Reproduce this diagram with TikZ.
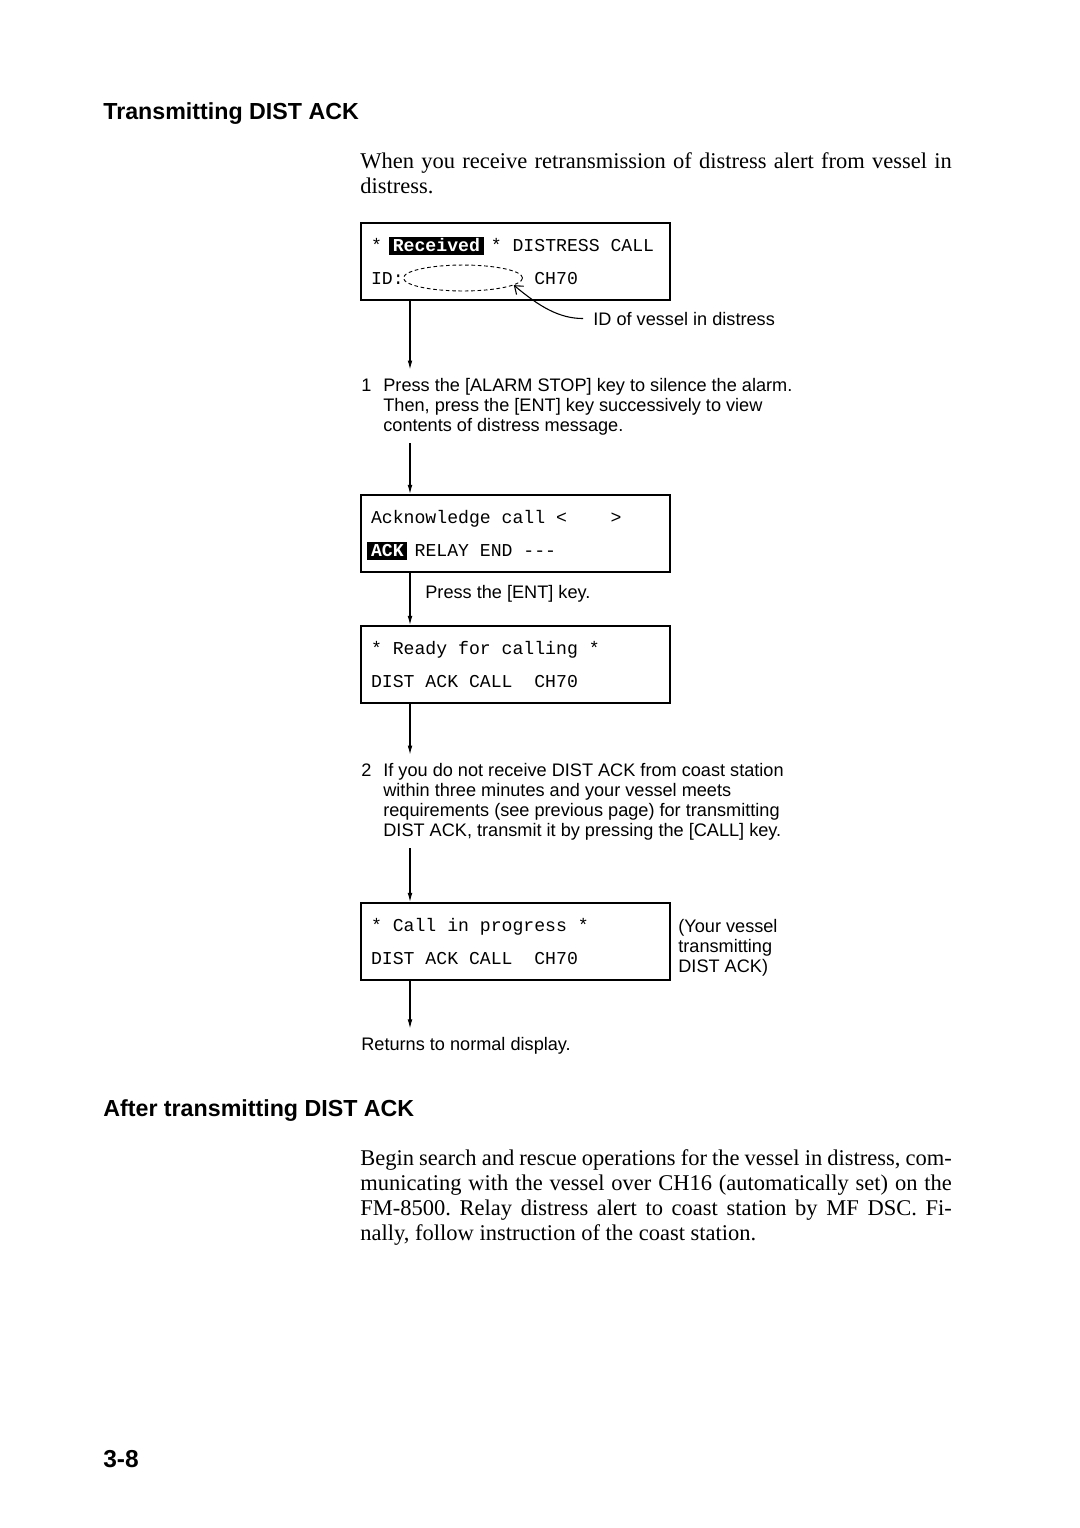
\documentclass[tikz,border=0pt]{standalone}
\usepackage{fontspec}
\setmainfont{Liberation Serif}
\setsansfont{Liberation Sans}
\setmonofont{Liberation Mono}
\usetikzlibrary{arrows.meta, shapes.geometric, positioning}

\newcommand{\lcdmark}[1]{\kern-2pt\relax{\setlength{\fboxsep}{0pt}\colorbox{black}{\kern2pt\relax\rule[-2pt]{0pt}{10pt}\textcolor{white}{\bfseries #1}\kern2pt\relax}}\kern-2pt\relax}
\newcommand{\lcdstrut}{\spaceskip=6pt\relax\xspaceskip=6pt\relax\rule[-2pt]{0pt}{10.9pt}}

\begin{document}
\begin{tikzpicture}[x=0.5512pt, y=-0.5512pt,
  lcd/.style={draw, line width=1.2pt, anchor=north west, inner xsep=5.5pt, inner ysep=0pt, text width=159.3pt, minimum height=42.4pt, align=left, font=\ttfamily\fontsize{10}{17.9}\selectfont},
  note/.style={inner sep=0pt, anchor=base west, align=left, font=\sffamily\fontsize{10}{11}\selectfont},
  heading/.style={inner sep=0pt, anchor=base west, font=\sffamily\bfseries\fontsize{12.8}{15}\selectfont},
  bodytext/.style={inner sep=0pt, anchor=base west, text width=326pt, align=justify, font=\fontsize{12.4}{13.8}\selectfont\frenchspacing},
  flow/.style={-{Latex[length=5pt,width=2.6pt]}, line width=0.6pt}]
\useasboundingbox (0,0) rectangle (1080,1528);

\node[heading] (head1) at (103,119) {Transmitting DIST ACK};
\node[bodytext] (intro) at (360,168) {When you receive retransmission of distress alert from vessel in\linebreak distress.};

\node[lcd] (box1) at (360,222) {\lcdstrut* \lcdmark{Received} * DISTRESS CALL\\\lcdstrut ID:~~~~~~~~~~~~CH70};
\node[draw, dashed, dash pattern=on 2pt off 1.5pt, ellipse, line width=0.5pt, inner sep=0pt, minimum width=65.6pt, minimum height=14.3pt] (idfield) at (463,278) {};
\node[note] (idnote) at (593,325) {ID of vessel in distress};
\draw[-{Straight Barb[length=4pt,width=6pt]}, line width=0.6pt, shorten <=5.5pt] (idnote.west) to[out=180, in=-40] (idfield.-8);

\node[note] (num1) at (361,391) {1};
\node[note] (step1) at (383,431) {Press the [ALARM STOP] key to silence the alarm.\\Then, press the [ENT] key successively to view\\contents of distress message.};

\node[lcd] (box2) at (360,494) {\lcdstrut Acknowledge call <~~~~>\\\lcdstrut\lcdmark{ACK} RELAY END ---};
\node[note] (entnote) at (425,598) {Press the [ENT] key.};
\node[lcd] (box3) at (360,625) {\lcdstrut* Ready for calling *\\\lcdstrut DIST ACK CALL~~CH70};

\node[note] (num2) at (361,776) {2};
\node[note] (step2) at (383,836) {If you do not receive DIST ACK from coast station\\within three minutes and your vessel meets\\requirements (see previous page) for transmitting\\DIST ACK, transmit it by pressing the [CALL] key.};

\node[lcd] (box4) at (360,902) {\lcdstrut* Call in progress *\\\lcdstrut DIST ACK CALL~~CH70};
\node[note] (txnote) at (678,972) {(Your vessel\\transmitting\\DIST ACK)};
\node[note] (back) at (361,1050) {Returns to normal display.};

\coordinate (col) at (410,0);
\draw[flow, shorten >=4.4pt] (box1.south -| col) -- (step1.north -| col);
\draw[flow, shorten <=4.4pt] (step1.south -| col) -- (box2.north -| col);
\draw[flow] (box2.south -| col) -- (box3.north -| col);
\draw[flow, shorten >=4.4pt] (box3.south -| col) -- (step2.north -| col);
\draw[flow, shorten <=4.4pt] (step2.south -| col) -- (box4.north -| col);
\draw[flow, shorten >=4.4pt] (box4.south -| col) -- (back.north -| col);

\node[heading] (head2) at (103,1116) {After transmitting DIST ACK};
\node[bodytext] (after) at (360,1165) {Begin search and rescue operations for the vessel in distress, com-\linebreak municating with the vessel over CH16 (automatically set) on the\linebreak FM-8500. Relay distress alert to coast station by MF DSC. Fi-\linebreak nally, follow instruction of the coast station.};

\node[heading, font=\sffamily\bfseries\fontsize{13.5}{16}\selectfont] (pageno) at (103,1467) {3-8};
\end{tikzpicture}
\end{document}
